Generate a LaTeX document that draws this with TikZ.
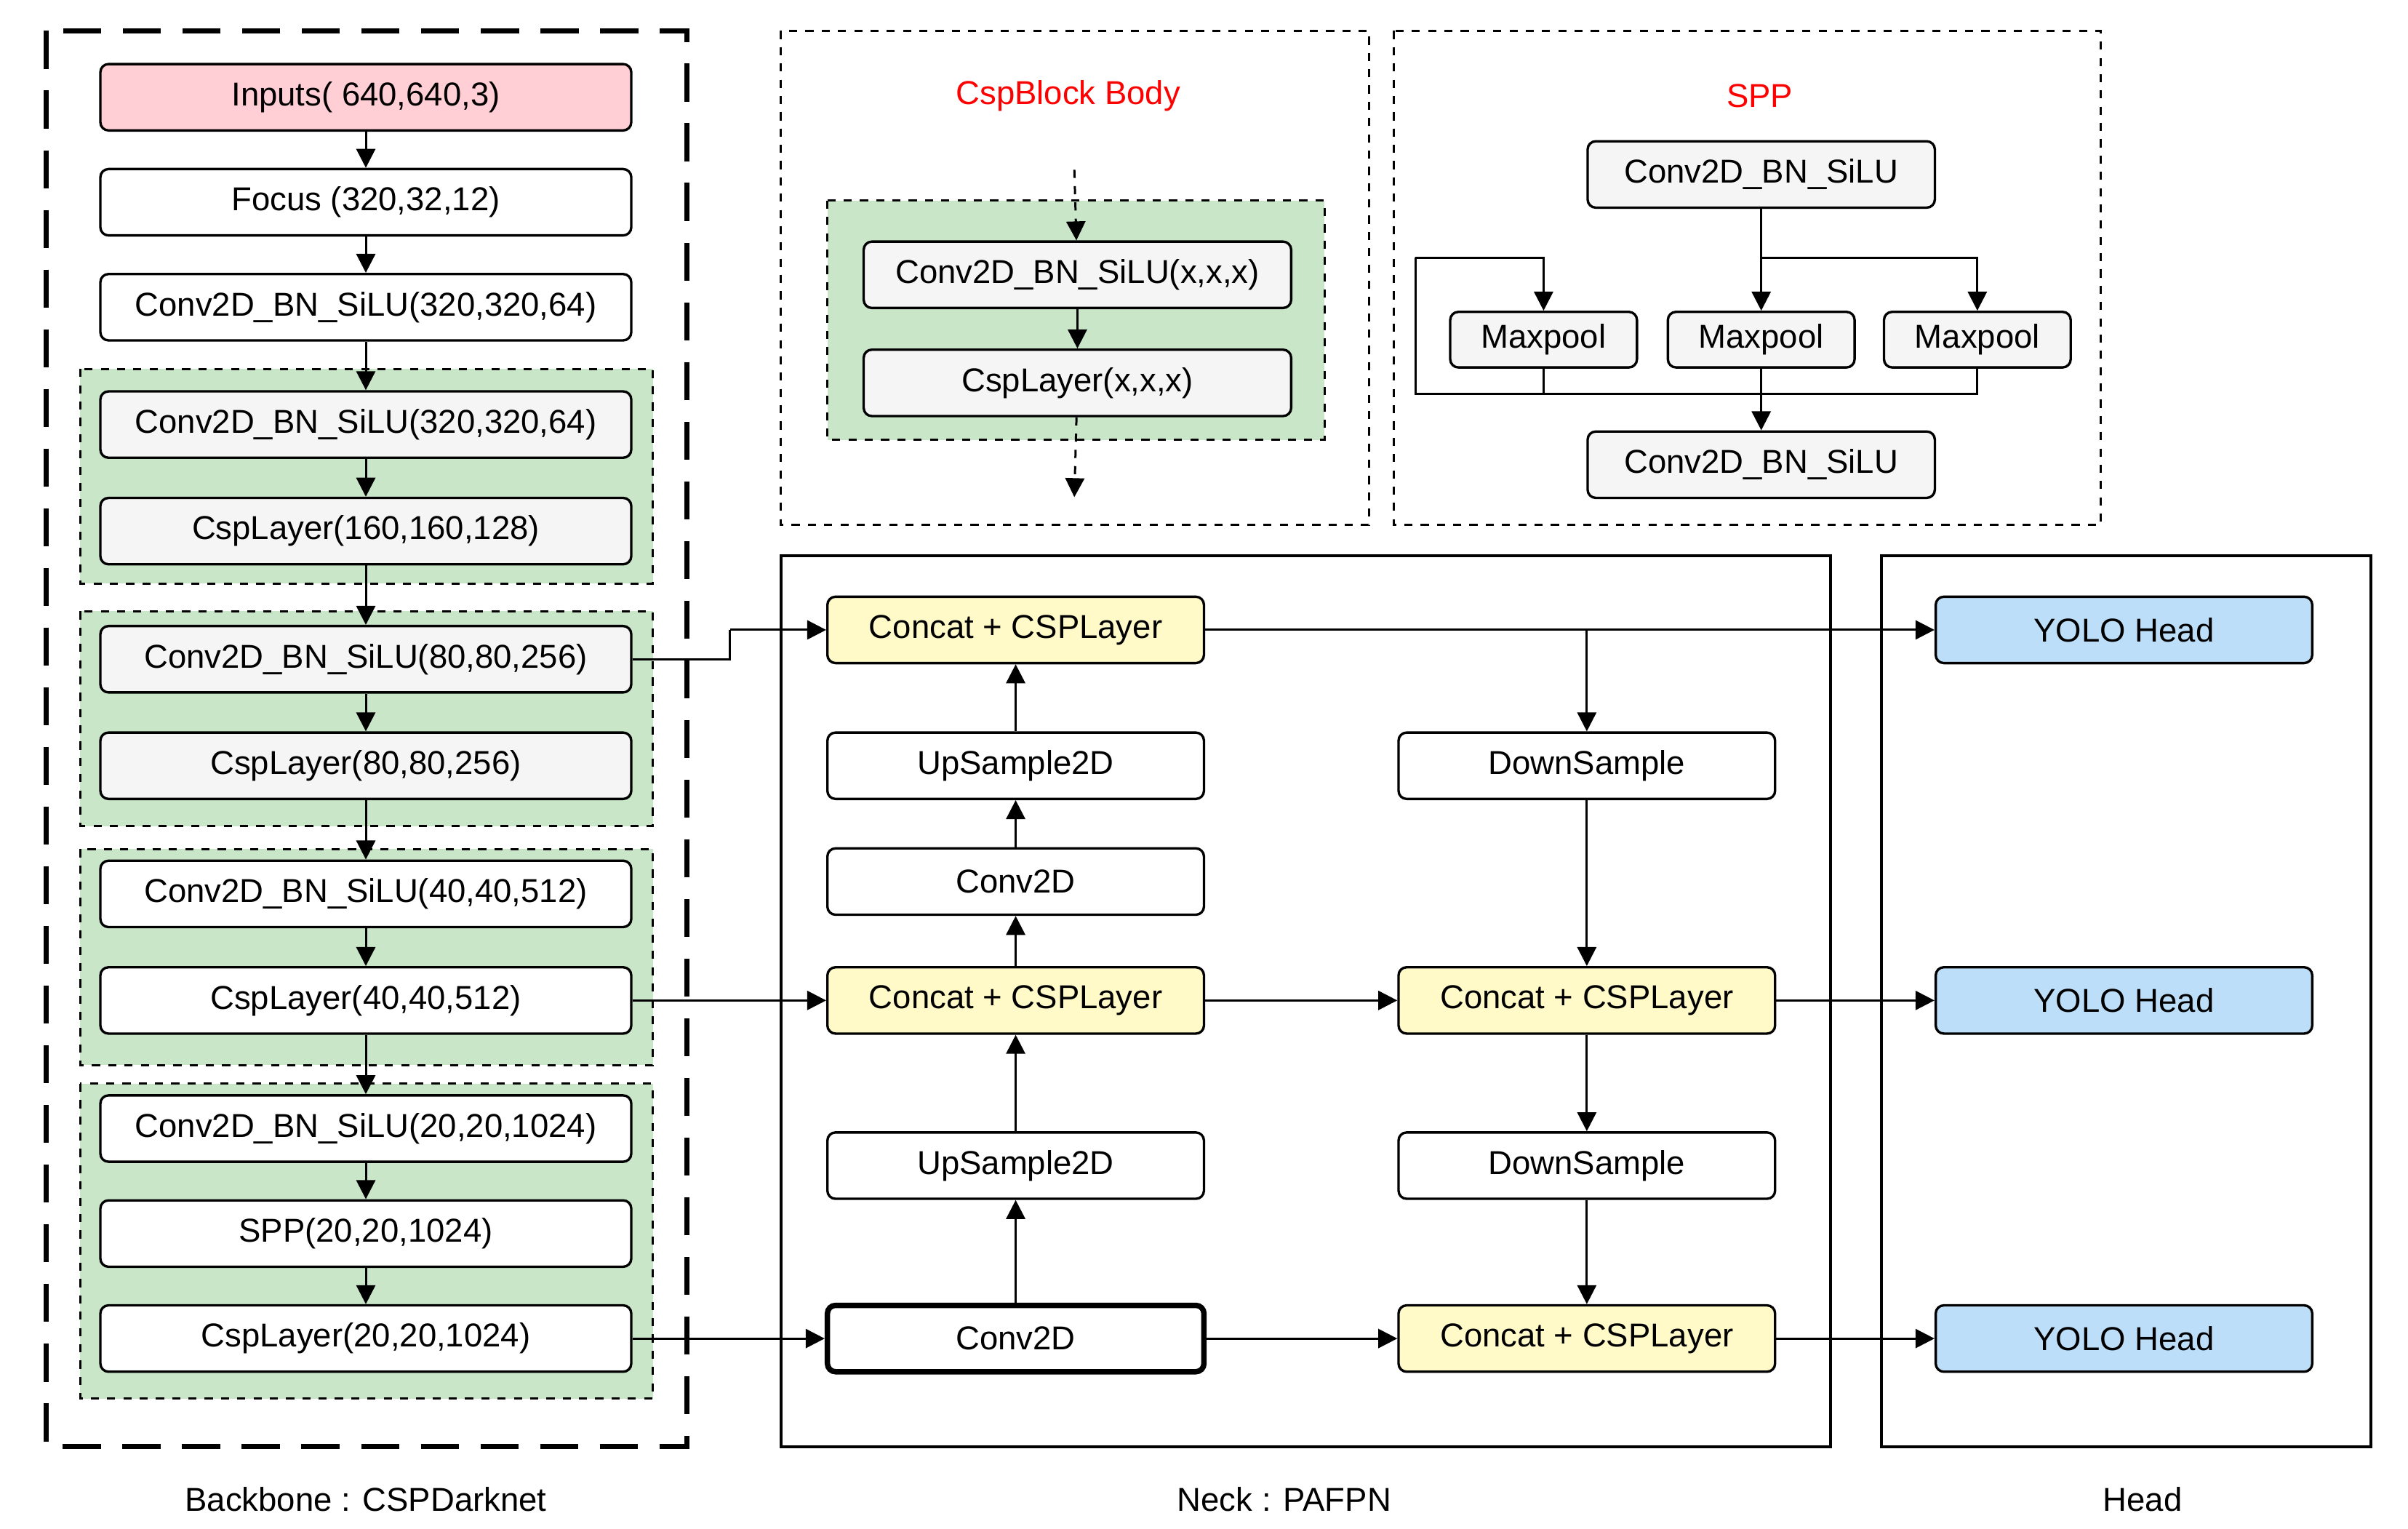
\documentclass[tikz,border=0pt]{standalone}
\usepackage{fontspec}
\setmainfont{Liberation Sans}
\usetikzlibrary{arrows.meta}
\begin{document}
\begin{tikzpicture}[x=0.02cm,y=-0.02cm,
 every node/.style={font=\fontsize{12.2}{14}\selectfont},
 b/.style={draw,line width=0.9pt,rounded corners=3pt,minimum height=0.86cm,inner sep=0pt},
 bb/.style={b,minimum width=6.88cm},
 wh/.style={fill=white},gr/.style={fill=black!4},
 nk/.style={b,minimum width=4.88cm},
 sp/.style={b,minimum width=4.5cm,fill=black!4},
 mp/.style={b,minimum width=2.42cm,minimum height=0.72cm,fill=black!4},
 ar/.style={-{Triangle[length=7pt,width=7pt]},line width=0.8pt},
 ln/.style={line width=0.8pt},
 grn/.style={draw,dashed,fill=green!20!white!80!black!0,fill={rgb,255:red,201;green,230;blue,201},line width=0.8pt},
 lab/.style={font=\fontsize{12.2}{14}\selectfont}]
\useasboundingbox (0,0) rectangle (1560,990);
% backbone frame
\draw[line width=2pt,dash pattern=on 14pt off 8pt] (30,20) rectangle (445,937);
\draw[grn] (52,239) rectangle (423,378);
\draw[grn] (52,396) rectangle (423,535);
\draw[grn] (52,550) rectangle (423,690);
\draw[grn] (52,702) rectangle (423,906);
\node[bb,fill={rgb,255:red,255;green,207;blue,213}] (in) at (237,63) {Inputs( 640,640,3)};
\node[bb,wh] (fo) at (237,131) {Focus (320,32,12)};
\node[bb,wh] (c0) at (237,199) {Conv2D\_BN\_SiLU(320,320,64)};
\node[bb,gr] (c1) at (237,275) {Conv2D\_BN\_SiLU(320,320,64)};
\node[bb,gr] (l1) at (237,344) {CspLayer(160,160,128)};
\node[bb,gr] (c2) at (237,427) {Conv2D\_BN\_SiLU(80,80,256)};
\node[bb,gr] (l2) at (237,496) {CspLayer(80,80,256)};
\node[bb,wh] (c3) at (237,579) {Conv2D\_BN\_SiLU(40,40,512)};
\node[bb,wh] (l3) at (237,648) {CspLayer(40,40,512)};
\node[bb,wh] (c4) at (237,731) {Conv2D\_BN\_SiLU(20,20,1024)};
\node[bb,wh] (sp) at (237,799) {SPP(20,20,1024)};
\node[bb,wh] (l4) at (237,867) {CspLayer(20,20,1024)};
\foreach \a/\b in {in/fo,fo/c0,c0/c1,c1/l1,l1/c2,c2/l2,l2/c3,c3/l3,l3/c4,c4/sp,sp/l4}
 \draw[ar] (\a) -- (\b);
% CspBlock body
\draw[dashed,line width=0.8pt] (506,20) rectangle (887,340);
\node[text=red] (t1) at (692,62) {CspBlock Body};
\draw[grn] (536,130) rectangle (858,285);
\node[b,gr,minimum width=5.54cm] (cb1) at (698,178) {Conv2D\_BN\_SiLU(x,x,x)};
\node[b,gr,minimum width=5.54cm] (cb2) at (698,248) {CspLayer(x,x,x)};
\coordinate (cbin) at (696,110);
\coordinate (cbout) at (696,322);
\draw[ar,dashed] (cbin) -- (cb1);
\draw[ar] (cb1) -- (cb2);
\draw[ar,dashed] (cb2) -- (cbout);
% SPP
\draw[dashed,line width=0.8pt] (903,20) rectangle (1361,340);
\node[text=red] (t2) at (1140,62) {SPP};
\node[sp] (s1) at (1141,113) {Conv2D\_BN\_SiLU};
\node[mp] (m1) at (1000,220) {Maxpool};
\node[mp] (m2) at (1141,220) {Maxpool};
\node[mp] (m3) at (1281,220) {Maxpool};
\node[sp] (s2) at (1141,301) {Conv2D\_BN\_SiLU};
\coordinate (sa) at (1141,167); \coordinate (sl) at (917,167);
\coordinate (sb) at (1141,255); \coordinate (slb) at (917,255);
\draw[ar] (s1) -- (m2);
\draw[ar] (sl) -| (m1);
\draw[ar] (sa) -| (m3);
\draw[ln] (sl) -- (slb) -| (m1.south);
\draw[ln] (slb) -| (m3.south);
\draw[ar] (m2) -- (s2);
% neck/head frames
\draw[line width=1pt] (506,360) rectangle (1186,937);
\draw[line width=1pt] (1219,360) rectangle (1536,937);
\tikzset{ye/.style={nk,fill={rgb,255:red,255;green,250;blue,200}},
 bl/.style={nk,fill={rgb,255:red,189;green,222;blue,248}}}
\node[ye] (n1) at (658,408) {Concat + CSPLayer};
\node[nk,wh] (u1) at (658,496) {UpSample2D};
\node[nk,wh] (v1) at (658,571) {Conv2D};
\node[ye] (n2) at (658,648) {Concat + CSPLayer};
\node[nk,wh] (u2) at (658,755) {UpSample2D};
\node[nk,wh,line width=2pt] (v2) at (658,867) {Conv2D};
\node[nk,wh] (d1) at (1028,496) {DownSample};
\node[ye] (r2) at (1028,648) {Concat + CSPLayer};
\node[nk,wh] (d2) at (1028,755) {DownSample};
\node[ye] (r3) at (1028,867) {Concat + CSPLayer};
\node[bl] (h1) at (1376,408) {YOLO Head};
\node[bl] (h2) at (1376,648) {YOLO Head};
\node[bl] (h3) at (1376,867) {YOLO Head};
\coordinate (j1) at (473,427); \coordinate (j2) at (473,408);
\coordinate (br) at (1028,408);
\draw[ln] (c2) -- (j1) -- (j2);
\draw[ar] (j2) -- (n1);
\draw[ar] (l3) -- (n2);
\draw[ar] (l4) -- (v2);
\draw[ar] (v2) -- (u2); \draw[ar] (u2) -- (n2);
\draw[ar] (n2) -- (v1); \draw[ar] (v1) -- (u1); \draw[ar] (u1) -- (n1);
\draw[ar] (n1) -- (h1);
\draw[ar] (br) -- (d1);
\draw[ar] (d1) -- (r2);
\draw[ar] (n2) -- (r2);
\draw[ar] (r2) -- (h2);
\draw[ar] (r2) -- (d2);
\draw[ar] (d2) -- (r3);
\draw[ar] (v2) -- (r3);
\draw[ar] (r3) -- (h3);
\node[lab] (lb1) at (237,971) {Backbone : CSPDarknet};
\node[lab] (lb2) at (832,971) {Neck : PAFPN};
\node[lab] (lb3) at (1388,971) {Head};
\end{tikzpicture}
\end{document}
